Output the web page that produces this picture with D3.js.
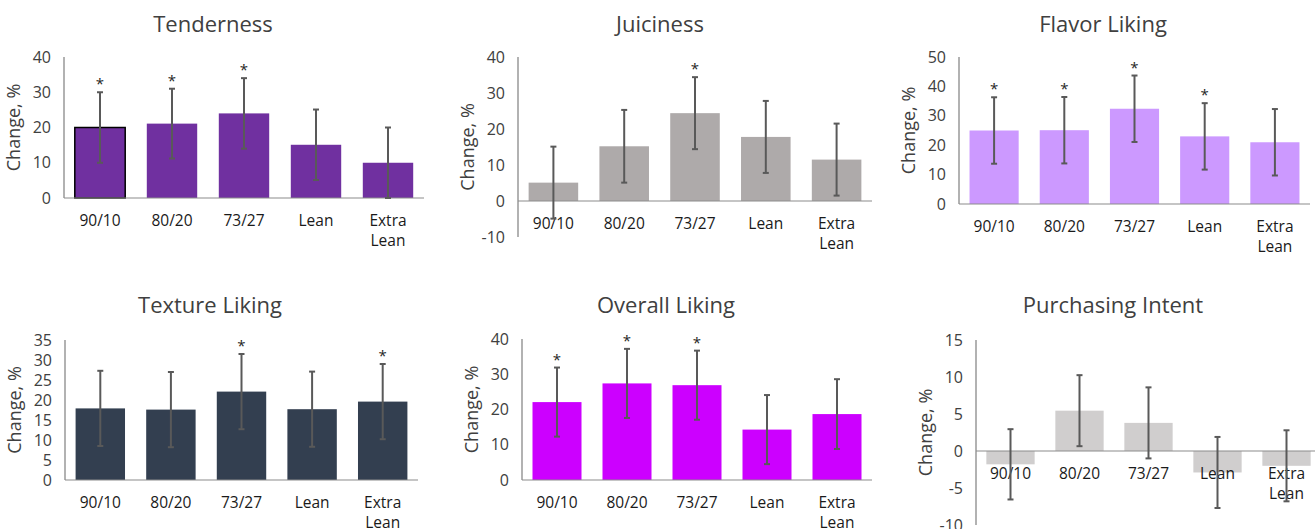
<!DOCTYPE html>
<html>
<head>
<meta charset="utf-8">
<script src="https://cdn.jsdelivr.net/npm/d3@7"></script>
<style>
  body { margin: 0; background: #fff; }
  svg { display: block; font-family: "Open Sans", sans-serif; }
</style>
</head>
<body>
<div id="chart"></div>
<script>
// categories shared by all six panels
const categories = ["90/10", "80/20", "73/27", "Lean", "Extra Lean"];

const tenderness    = [20.0, 21.1, 24.0, 15.1, 10.0];
const tendernessErr = [10.0, 9.9, 10.0, 10.0, 10.0];
const tendernessSig = [true, true, true, false, false];

const juiciness    = [5.1, 15.2, 24.4, 17.8, 11.5];
const juicinessErr = [10.0, 10.1, 10.0, 10.0, 10.0];
const juicinessSig = [false, false, true, false, false];

const flavor    = [25.0, 25.1, 32.4, 23.0, 21.0];
const flavorErr = [11.3, 11.3, 11.3, 11.3, 11.3];
const flavorSig = [true, true, true, true, false];

const texture    = [17.9, 17.6, 22.1, 17.7, 19.6];
const textureErr = [9.4, 9.4, 9.4, 9.4, 9.4];
const textureSig = [false, false, true, false, true];

const overall    = [22.1, 27.4, 26.9, 14.3, 18.7];
const overallErr = [9.8, 9.8, 9.8, 9.8, 9.9];
const overallSig = [true, true, true, false, false];

const purchase    = [-1.8, 5.45, 3.8, -2.9, -2.0];
const purchaseErr = [4.75, 4.8, 4.8, 4.8, 4.8];
const purchaseSig = [false, false, false, false, false];

const titles = ["Tenderness", "Juiciness", "Flavor Liking", "Texture Liking", "Overall Liking", "Purchasing Intent"];
const yDomains = [[0, 40], [-10, 40], [0, 50], [0, 35], [0, 40], [-10, 15]];
const yTicks = [
  [0, 10, 20, 30, 40],
  [-10, 0, 10, 20, 30, 40],
  [0, 10, 20, 30, 40, 50],
  [0, 5, 10, 15, 20, 25, 30, 35],
  [0, 10, 20, 30, 40],
  [-10, -5, 0, 5, 10, 15]
];
const colors = ["#7030A0", "#AEAAAA", "#CC99FF", "#333F50", "#CC00FF", "#D0CECE"];

const series = [
  [tenderness, tendernessErr, tendernessSig],
  [juiciness, juicinessErr, juicinessSig],
  [flavor, flavorErr, flavorSig],
  [texture, textureErr, textureSig],
  [overall, overallErr, overallSig],
  [purchase, purchaseErr, purchaseSig]
];

// layout of each panel (pixels)
const layout = [
  {ax: 64,  right: 424,  top: 57,  bottom: 198, titleX: 213,  titleY: 32},
  {ax: 518, right: 872,  top: 57,  bottom: 237, titleX: 660,  titleY: 32},
  {ax: 959, right: 1310, top: 57,  bottom: 204, titleX: 1103, titleY: 32},
  {ax: 65,  right: 418,  top: 340, bottom: 480, titleX: 210,  titleY: 313},
  {ax: 522, right: 872,  top: 339, bottom: 480, titleX: 666,  titleY: 313},
  {ax: 976, right: 1321, top: 340, bottom: 525, titleX: 1113, titleY: 313}
];

const W = 1315, H = 529;
const svg = d3.select("#chart").append("svg")
    .attr("width", W)
    .attr("height", H);

const textCol = "#404040";

series.forEach((s, i) => {
    const vals = s[0], errs = s[1], sig = s[2];
    const L = layout[i];
    const g = svg.append("g");

    const x = d3.scaleBand()
        .domain(categories)
        .range([L.ax, L.right])
        .paddingInner(0.3)
        .paddingOuter(0.15);

    const y = d3.scaleLinear()
        .domain(yDomains[i])
        .range([L.bottom, L.top]);

    // title
    g.append("text")
        .attr("x", L.titleX)
        .attr("y", L.titleY)
        .attr("text-anchor", "middle")
        .attr("font-size", "22px")
        .attr("fill", textCol)
        .text(titles[i]);

    // y axis tick labels (plain hyphen for negatives, like the original)
    const yAxis = g.append("g")
        .attr("transform", "translate(" + L.ax + ",0)")
        .call(d3.axisLeft(y).tickValues(yTicks[i]).tickSize(0).tickPadding(13)
            .tickFormat((d) => String(d)));
    yAxis.select(".domain").remove();
    yAxis.selectAll("text")
        .attr("font-size", "16px")
        .attr("font-family", "Open Sans, sans-serif")
        .attr("fill", textCol);

    // y axis title
    g.append("text")
        .attr("transform", "translate(" + (L.ax - 50) + "," + ((L.top + L.bottom) / 2) + ") rotate(-90)")
        .attr("text-anchor", "middle")
        .attr("dy", "0.35em")
        .attr("font-size", "18px")
        .attr("fill", textCol)
        .text("Change, %");

    // bars
    g.selectAll("rect.bar")
        .data(vals)
        .enter()
        .append("rect")
        .attr("class", "bar")
        .attr("x", (d, j) => x(categories[j]))
        .attr("y", (d) => y(Math.max(0, d)))
        .attr("width", x.bandwidth())
        .attr("height", (d) => Math.abs(y(d) - y(0)))
        .attr("fill", colors[i])
        .attr("stroke", (d, j) => (i == 0 && j == 0) ? "#000" : "none")
        .attr("stroke-width", 1.5);

    // y axis line
    g.append("line")
        .attr("x1", L.ax).attr("x2", L.ax)
        .attr("y1", L.top).attr("y2", L.bottom)
        .attr("stroke", "#7f7f7f")
        .attr("stroke-width", 1.2);

    // x axis line at zero
    g.append("line")
        .attr("x1", L.ax).attr("x2", L.right)
        .attr("y1", y(0)).attr("y2", y(0))
        .attr("stroke", "#8c8c8c")
        .attr("stroke-width", 1.2);

    // category labels
    const lab = g.selectAll("text.cat")
        .data(categories)
        .enter()
        .append("text")
        .attr("class", "cat")
        .attr("text-anchor", "middle")
        .attr("font-size", "15.5px")
        .attr("fill", "#1a1a1a");
    lab.each(function(d) {
        const words = d.split(" ");
        const t = d3.select(this);
        words.forEach((w, k) => {
            t.append("tspan")
                .attr("x", x(d) + x.bandwidth() / 2)
                .attr("y", y(0) + 28 + k * 20)
                .text(w);
        });
    });

    // error bars
    const eb = g.selectAll("g.err")
        .data(vals)
        .enter()
        .append("g")
        .attr("class", "err")
        .attr("stroke", "#595959")
        .attr("stroke-width", 2);
    eb.append("line")
        .attr("x1", (d, j) => x(categories[j]) + x.bandwidth() / 2)
        .attr("x2", (d, j) => x(categories[j]) + x.bandwidth() / 2)
        .attr("y1", (d, j) => y(d + errs[j]))
        .attr("y2", (d, j) => y(d - errs[j]));
    [1, -1].forEach((sgn) => {
        eb.append("line")
            .attr("x1", (d, j) => x(categories[j]) + x.bandwidth() / 2 - 3)
            .attr("x2", (d, j) => x(categories[j]) + x.bandwidth() / 2 + 3)
            .attr("y1", (d, j) => y(d + sgn * errs[j]))
            .attr("y2", (d, j) => y(d + sgn * errs[j]));
    });

    // significance stars
    vals.forEach((d, j) => {
        if (!sig[j]) return;
        g.append("text")
            .attr("class", "star")
            .attr("x", x(categories[j]) + x.bandwidth() / 2)
            .attr("y", y(d + errs[j]) - 3)
            .attr("text-anchor", "middle")
            .attr("font-size", "15px")
            .attr("fill", "#262626")
            .text("*");
    });
});
</script>
</body>
</html>
